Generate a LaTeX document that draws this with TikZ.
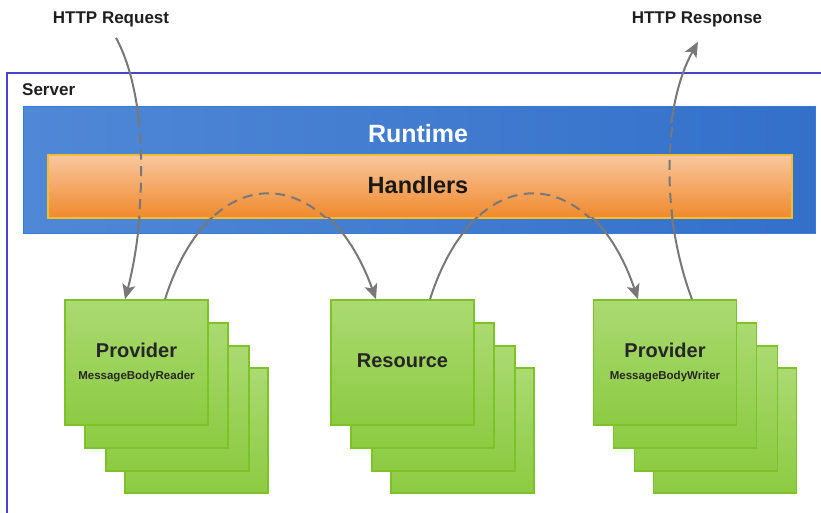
\documentclass[tikz,border=0pt]{standalone}
\usepackage{fontspec}
\setmainfont{Liberation Sans}
\usetikzlibrary{arrows.meta}
\definecolor{frameblue}{HTML}{4646C8}
\definecolor{rtleft}{HTML}{5088D6}
\definecolor{rtright}{HTML}{3370CA}
\definecolor{rtborder}{HTML}{3A78DA}
\definecolor{hdtop}{HTML}{F9C7A0}
\definecolor{hdbot}{HTML}{F0892C}
\definecolor{hdborder}{HTML}{F0BE2E}
\definecolor{grtop}{HTML}{ABDA72}
\definecolor{grbot}{HTML}{8CCB42}
\definecolor{grborder}{HTML}{7DC226}
\definecolor{arrowgray}{HTML}{787878}
\begin{document}
\begin{tikzpicture}[x=1pt,y=-1pt,
  lbl/.style={font=\bfseries\fontsize{17}{20}\selectfont, inner sep=0, text=black!88},
  cardtitle/.style={font=\bfseries\fontsize{20}{24}\selectfont, inner sep=0, text=black!85},
  cardsub/.style={font=\bfseries\fontsize{11.5}{14}\selectfont, inner sep=0, text=black!85},
  card/.style={draw=grborder, line width=1.5pt, top color=grtop, bottom color=grbot,
    minimum width=143pt, minimum height=125pt, inner sep=0},
  flow/.style={draw=arrowgray, line width=2pt},
  flowdash/.style={draw=arrowgray, line width=2pt, dash pattern=on 10pt off 6.5pt},
  tip/.style={-{Stealth[length=15pt,width=13pt,inset=3.5pt]}}]
\clip (0,0) rectangle (821,513);
\useasboundingbox (0,0) rectangle (821,513);
\fill[white] (0,0) rectangle (821,513);

% server frame
\draw[frameblue, line width=2pt] (840,73) -- (7,73) -- (7,540);
\node[lbl, anchor=west] (server) at (22,90) {Server};

% runtime and handlers
\node[draw=rtborder, line width=1pt, left color=rtleft, right color=rtright,
  minimum width=792pt, minimum height=126pt, inner sep=0] (rt) at (419,170) {};
\node[font=\bfseries\fontsize{25}{30}\selectfont, text=white, inner sep=0] (rtl) at (418,134) {Runtime};
\node[draw=hdborder, line width=1.5pt, top color=hdtop, bottom color=hdbot,
  minimum width=744pt, minimum height=63pt, inner sep=0] (hd) at (420,186.5) {};
\node[font=\bfseries\fontsize{23.5}{28}\selectfont, text=black!90, inner sep=0] (hdl) at (418,185) {Handlers};

% top labels
\node[lbl] (req) at (111,19) {HTTP Request};
\node[lbl] (resp) at (697,19) {HTTP Response};

% stacks
\foreach \cx/\nm in {136.5/p1, 402.5/r1, 665/p2}{
  \node[card] (\nm d) at (\cx+60,430.5) {};
  \node[card] (\nm c) at (\cx+41,408.5) {};
  \node[card] (\nm b) at (\cx+20,385.5) {};
  \node[card] (\nm) at (\cx,362.5) {};
}
\node[cardtitle] (p1t) at (136.5,350) {Provider};
\node[cardsub] (p1s) at (136.5,377) {MessageBodyReader};
\node[cardtitle] (r1t) at (402.5,361) {Resource};
\node[cardtitle] (p2t) at (665,350) {Provider};
\node[cardsub] (p2s) at (665,377) {MessageBodyWriter};

% connectors: solid outside the handler band
\begin{scope}
\clip (0,0) rectangle (821,123) (0,217) rectangle (821,513);
\draw[flow, tip] ([shift={(5,11)}]req.south) .. controls (150,100) and (146,220) .. ([xshift=-11.5]p1.north);
\draw[flow, tip] ([xshift=28.5]p1.north) .. controls (210,158) and (325,158) .. ([xshift=-26.5]r1.north);
\draw[flow, tip] ([xshift=27.5]r1.north) .. controls (475,158) and (590,158) .. ([xshift=-27]p2.north);
\draw[flow, tip] ([xshift=27]p2.north) .. controls (662,220) and (660,110) .. ([shift={(1,15)}]resp.south);
\end{scope}
% connectors: dashed inside the handler band
\begin{scope}
\clip (0,123) rectangle (821,217);
\draw[flowdash] ([shift={(5,11)}]req.south) .. controls (150,100) and (146,220) .. ([xshift=-11.5]p1.north);
\draw[flowdash] ([xshift=28.5]p1.north) .. controls (210,158) and (325,158) .. ([xshift=-26.5]r1.north);
\draw[flowdash] ([xshift=27.5]r1.north) .. controls (475,158) and (590,158) .. ([xshift=-27]p2.north);
\draw[flowdash] ([xshift=27]p2.north) .. controls (662,220) and (660,110) .. ([shift={(1,15)}]resp.south);
\end{scope}
\end{tikzpicture}
\end{document}
